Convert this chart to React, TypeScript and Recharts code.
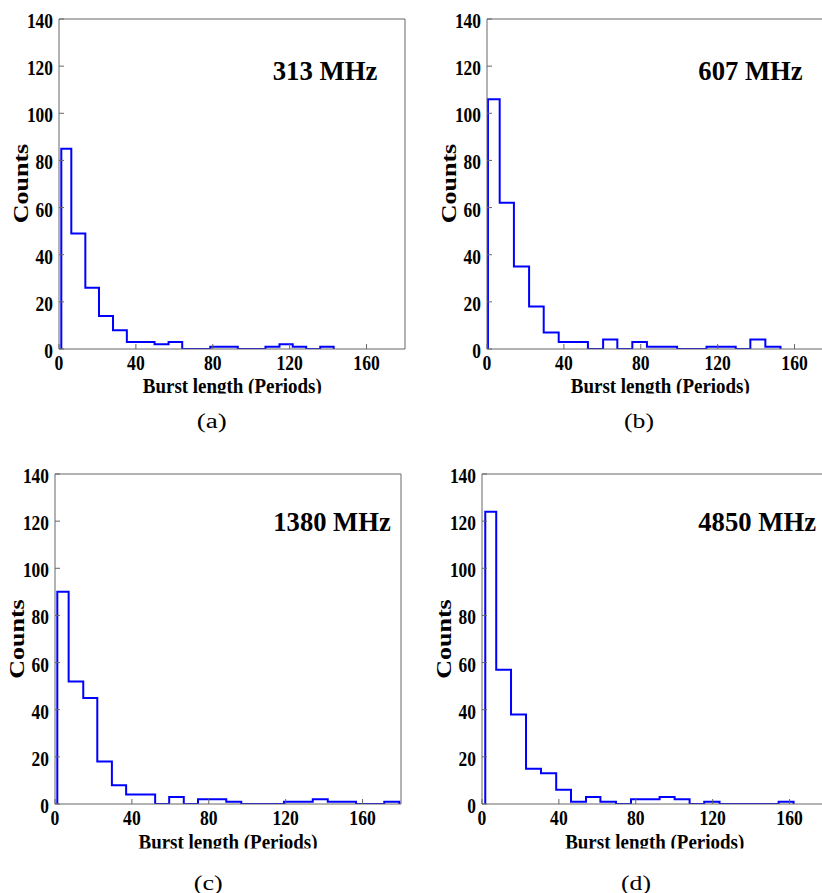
import { LineChart, Line, XAxis, YAxis, ReferenceLine } from "recharts";

// bin edges (burst length, periods) and counts per bin
const EDGES_313 = [1.2, 6.4, 13.7, 20.8, 28.1, 35.3, 42.6, 49.7, 57.0, 64.1, 71.4, 78.7, 85.8, 93.0, 100.3, 107.4, 114.7, 121.6, 128.6, 135.9, 142.9];
const COUNTS_313 = [85, 49, 26, 14, 8, 3, 3, 2, 3, 0, 0, 1, 1, 0, 0, 1, 2, 1, 0, 1];

const EDGES_607 = [0.5, 6.6, 14.0, 21.9, 29.5, 37.3, 45.0, 52.5, 60.4, 67.8, 75.6, 83.2, 91.1, 98.9, 106.5, 114.2, 121.7, 129.4, 137.0, 144.8, 152.7];
const COUNTS_607 = [106, 62, 35, 18, 7, 3, 3, 0, 4, 0, 3, 1, 1, 0, 0, 1, 1, 0, 4, 1];

const EDGES_1380 = [1.2, 7.1, 14.7, 22.0, 29.6, 37.0, 44.5, 52.1, 59.4, 67.0, 74.4, 81.9, 89.1, 96.9, 104.4, 111.6, 119.1, 126.7, 134.1, 141.9, 149.2, 156.6, 164.1, 171.3, 179.1];
const COUNTS_1380 = [90, 52, 45, 18, 8, 4, 4, 0, 3, 0, 2, 2, 1, 0, 0, 0, 1, 1, 2, 1, 1, 0, 0, 1];

const EDGES_4850 = [1.7, 7.4, 15.1, 22.9, 30.7, 38.6, 46.3, 54.1, 61.6, 69.7, 77.5, 85.1, 92.4, 100.2, 108.0, 115.6, 123.6, 130.9, 138.7, 146.5, 154.3, 162.1];
const COUNTS_4850 = [124, 57, 38, 15, 13, 6, 1, 3, 1, 0, 2, 2, 3, 2, 0, 1, 0, 0, 0, 0, 1];

const X_TICKS = [0, 40, 80, 120, 160];
const Y_TICKS = [0, 20, 40, 60, 80, 100, 120, 140];

const FONT = "'Liberation Serif', 'Times New Roman', serif";
const FRAME = "#666";
const PLOT_W = 346;
const PLOT_H = 330;

// step outline of a histogram: up at the first edge, across each bin, down at the last edge
function stepData(edges: number[], counts: number[]) {
  const pts = [{ x: edges[0], y: 0 }];
  counts.forEach((c, i) => pts.push({ x: edges[i], y: c }));
  pts.push({ x: edges[edges.length - 1], y: 0 });
  return pts;
}

function XTick(props: any) {
  const { x, y, payload } = props;
  const s = String(payload.value);
  return (
    <g>
      <line x1={x} x2={x} y1={y} y2={y - 5} stroke={FRAME} />
      <text x={x} y={y + 21} textAnchor="middle" fontFamily={FONT} fontWeight="bold" fontSize={22}
        textLength={s.length * 8.8} lengthAdjust="spacingAndGlyphs" fill="#000">{s}</text>
    </g>
  );
}

function YTick(props: any) {
  const { x, y, payload } = props;
  const s = String(payload.value);
  return (
    <g>
      <line x1={x} x2={x + 5} y1={y} y2={y} stroke={FRAME} />
      <text x={x - 6} y={y + 9} textAnchor="end" fontFamily={FONT} fontWeight="bold" fontSize={22}
        textLength={s.length * 8.7} lengthAdjust="spacingAndGlyphs" fill="#000">{s}</text>
    </g>
  );
}

const PANELS = [
  { edges: EDGES_313, counts: COUNTS_313, left: 59.3, top: 18.5 },
  { edges: EDGES_607, counts: COUNTS_607, left: 487.3, top: 18.5 },
  { edges: EDGES_1380, counts: COUNTS_1380, left: 55, top: 474 },
  { edges: EDGES_4850, counts: COUNTS_4850, left: 481.7, top: 474 },
];

function Panel({ edges, counts, left, top }: { edges: number[]; counts: number[]; left: number; top: number }) {
  const data = stepData(edges, counts);
  return (
    <div style={{ position: "absolute", left: left - 50, top: top - 10 }}>
      <LineChart width={50 + PLOT_W + 10} height={10 + PLOT_H + 40} data={data}
        margin={{ top: 10, right: 10, bottom: 0, left: 0 }}>
        <XAxis dataKey="x" type="number" domain={[0, 180]} ticks={X_TICKS} allowDataOverflow
          height={40} tickSize={0} tickMargin={0} tickLine={false} tick={XTick}
          axisLine={{ stroke: FRAME }} />
        <YAxis type="number" domain={[0, 140]} ticks={Y_TICKS} allowDataOverflow
          width={50} tickSize={0} tickMargin={0} tickLine={false} tick={YTick}
          axisLine={{ stroke: FRAME }} />
        <ReferenceLine y={140} stroke={FRAME} />
        <ReferenceLine x={180} stroke={FRAME} />
        <Line dataKey="y" type="stepAfter" stroke="#0000ff" strokeWidth={2} dot={false}
          isAnimationActive={false} />
      </LineChart>
    </div>
  );
}

const TAGS = [
  { text: "313 MHz", x: 272.7, y: 80, w: 104.7 },
  { text: "607 MHz", x: 698.3, y: 80, w: 104.4 },
  { text: "1380 MHz", x: 273.3, y: 531, w: 117.4 },
  { text: "4850 MHz", x: 698.3, y: 531, w: 117.7 },
];

export default function App() {
  return (
    <div style={{ position: "absolute", left: 0, top: 0, width: 822, height: 893, overflow: "hidden", background: "#fff" }}>
      {PANELS.map((p, i) => <Panel key={i} {...p} />)}
      <svg width={822} height={893} style={{ position: "absolute", left: 0, top: 0, pointerEvents: "none" }}>
        <defs>
          <clipPath id="clipTop"><rect x={0} y={0} width={822} height={393.5} /></clipPath>
          <clipPath id="clipBottom"><rect x={0} y={440} width={822} height={408.5} /></clipPath>
        </defs>
        {TAGS.map((t) => (
          <text key={t.text} x={t.x} y={t.y} fontFamily={FONT} fontWeight="bold" fontSize={27}
            textLength={t.w} lengthAdjust="spacingAndGlyphs" fill="#000">{t.text}</text>
        ))}
        {PANELS.map((p, i) => (
          <text key={"c" + i} transform={`translate(${p.left - 31},${p.top + PLOT_H / 2}) scale(0.78,1) rotate(-90)`}
            textAnchor="middle" fontFamily={FONT} fontWeight="bold" fontSize={26} fill="#000">Counts</text>
        ))}
        {PANELS.map((p, i) => (
          <text key={"b" + i} x={p.left + PLOT_W / 2} y={p.top + PLOT_H + 44.5}
            clipPath={i < 2 ? "url(#clipTop)" : "url(#clipBottom)"}
            textAnchor="middle" fontFamily={FONT} fontWeight="bold" fontSize={22}
            textLength={179} lengthAdjust="spacingAndGlyphs" fill="#000">Burst length (Periods)</text>
        ))}
        <text x={211.7} y={428} textAnchor="middle" fontFamily={FONT} fontSize={20} textLength={30} lengthAdjust="spacingAndGlyphs">(a)</text>
        <text x={639} y={428} textAnchor="middle" fontFamily={FONT} fontSize={20} textLength={30} lengthAdjust="spacingAndGlyphs">(b)</text>
        <text x={208.3} y={890} textAnchor="middle" fontFamily={FONT} fontSize={20} textLength={29} lengthAdjust="spacingAndGlyphs">(c)</text>
        <text x={636} y={890} textAnchor="middle" fontFamily={FONT} fontSize={20} textLength={30} lengthAdjust="spacingAndGlyphs">(d)</text>
      </svg>
    </div>
  );
}
